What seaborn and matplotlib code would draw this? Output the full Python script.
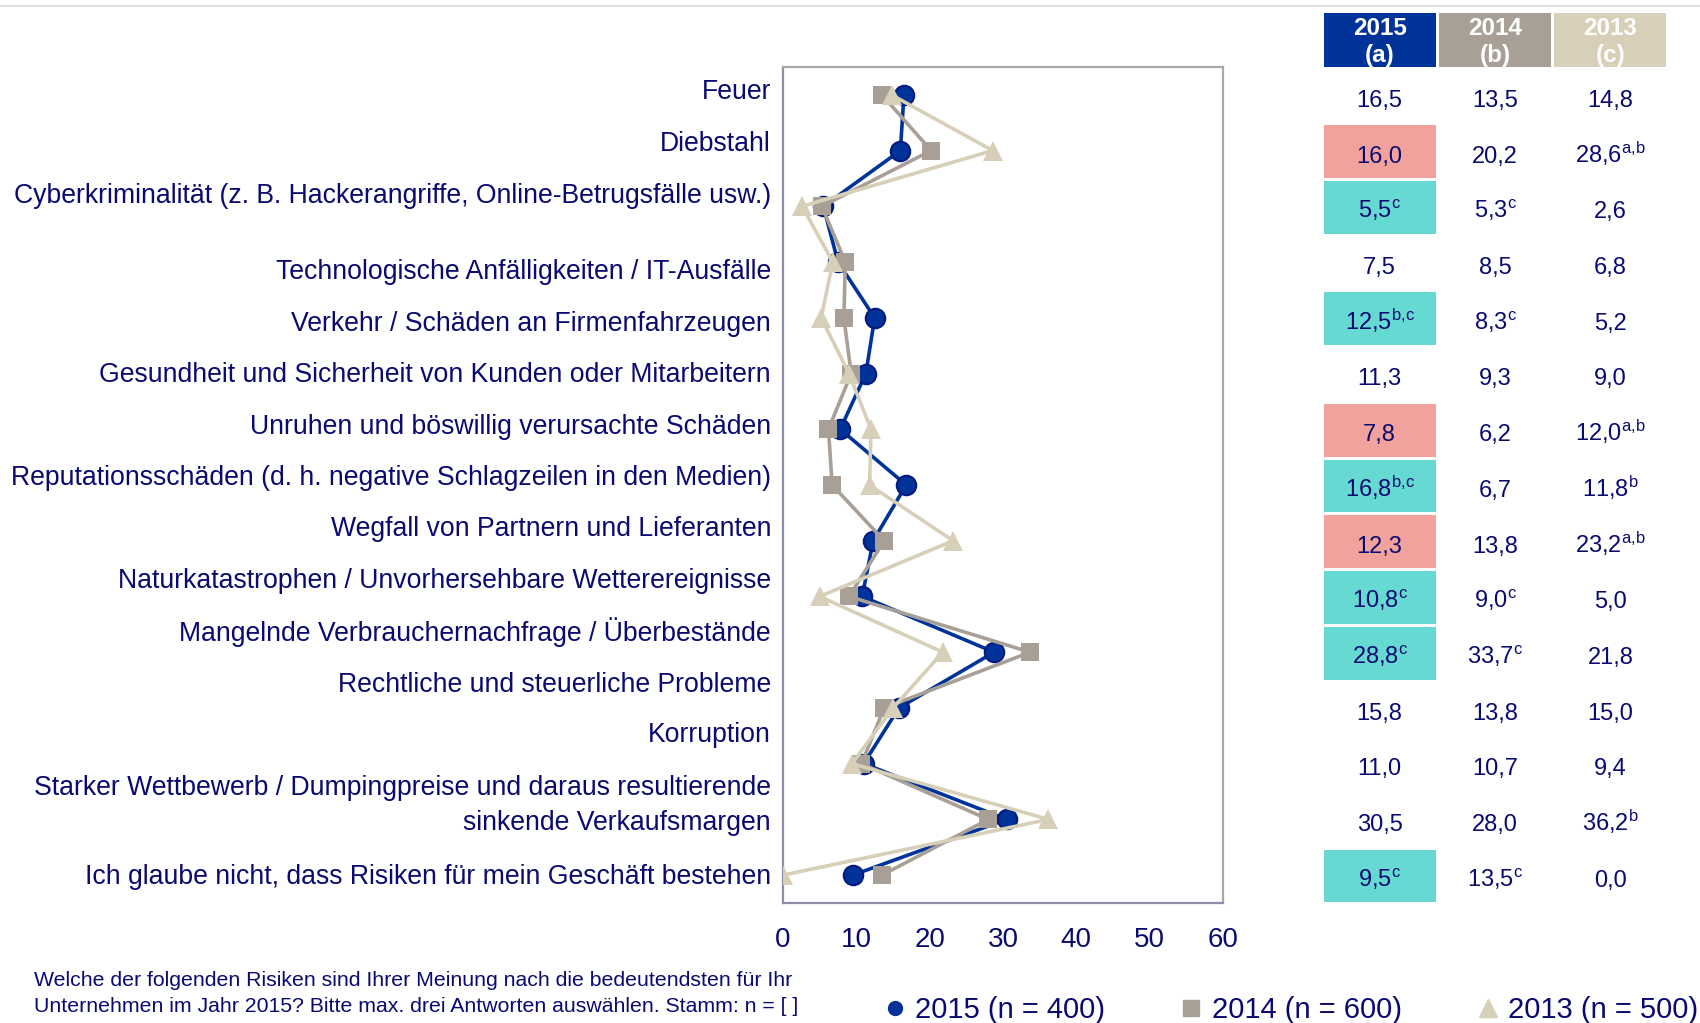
import matplotlib
matplotlib.use('Agg')
import matplotlib.pyplot as plt
import matplotlib.transforms as mtransforms
from matplotlib.patches import Rectangle
from matplotlib.lines import Line2D
import seaborn as sns

categories = ['Feuer', 'Diebstahl',
              'Cyberkriminalität (z. B. Hackerangriffe, Online-Betrugsfälle usw.)',
              'Technologische Anfälligkeiten / IT-Ausfälle',
              'Verkehr / Schäden an Firmenfahrzeugen',
              'Gesundheit und Sicherheit von Kunden oder Mitarbeitern',
              'Unruhen und böswillig verursachte Schäden',
              'Reputationsschäden (d. h. negative Schlagzeilen in den Medien)',
              'Wegfall von Partnern und Lieferanten',
              'Naturkatastrophen / Unvorhersehbare Wetterereignisse',
              'Mangelnde Verbrauchernachfrage / Überbestände',
              'Rechtliche und steuerliche Probleme',
              'Korruption',
              'Starker Wettbewerb / Dumpingpreise und daraus resultierende\nsinkende Verkaufsmargen',
              'Ich glaube nicht, dass Risiken für mein Geschäft bestehen']
# where the label texts sit (in row units), as in the original layout
label_rows = [-0.05, 0.88, 1.82, 3.18, 4.11, 5.03, 5.96, 6.88, 7.79, 8.73,
              9.64, 10.58, 11.49, 12.75, 14.04]

v2015 = [16.5, 16.0, 5.5, 7.5, 12.5, 11.3, 7.8, 16.8, 12.3, 10.8, 28.8, 15.8, 11.0, 30.5, 9.5]
v2014 = [13.5, 20.2, 5.3, 8.5, 8.3, 9.3, 6.2, 6.7, 13.8, 9.0, 33.7, 13.8, 10.7, 28.0, 13.5]
v2013 = [14.8, 28.6, 2.6, 6.8, 5.2, 9.0, 12.0, 11.8, 23.2, 5.0, 21.8, 15.0, 9.4, 36.2, 0.0]

sup2015 = ['', '', 'c', '', 'b,c', '', '', 'b,c', '', 'c', 'c', '', '', '', 'c']
sup2014 = ['', '', 'c', '', 'c', '', '', '', '', 'c', 'c', '', '', '', 'c']
sup2013 = ['', 'a,b', '', '', '', '', 'a,b', 'b', 'a,b', '', '', '', '', 'b', '']
# highlight of the 2015 column: r = significantly lower, t = significantly higher
hl2015 = ['', 'r', 't', '', 't', '', 'r', 't', 'r', 't', 't', '', '', '', 't']

headers = ['2015\n(a)', '2014\n(b)', '2013\n(c)']
legend_labels = ['2015 (n = 400)', '2014 (n = 600)', '2013 (n = 500)']
xticks = [0, 10, 20, 30, 40, 50, 60]
footnote = ('Welche der folgenden Risiken sind Ihrer Meinung nach die bedeutendsten für Ihr\n'
            'Unternehmen im Jahr 2015? Bitte max. drei Antworten auswählen. Stamm: n = [ ]')

sns.set_style('white')
plt.rcParams['font.family'] = ['Liberation Sans', 'DejaVu Sans']
plt.rcParams['mathtext.fontset'] = 'custom'
plt.rcParams['mathtext.rm'] = 'Liberation Sans'
plt.rcParams['mathtext.default'] = 'regular'

navy = '#0A0A70'
c15, c14, c13 = '#003399', '#A8A097', '#D7CFB7'
hl_colors = {'r': '#F2A29C', 't': '#66D9D2'}

fig = plt.figure(figsize=(17, 10.23), dpi=100)
W, H = 1700, 1023
ax = fig.add_axes([783 / W, 1 - 903 / H, 440 / W, 836 / H])

rows = list(range(len(v2015)))
sns.lineplot(x=v2015, y=rows, sort=False, estimator=None, ax=ax, color=c15,
             linewidth=2.6, marker='o', markersize=14, markerfacecolor=c15,
             markeredgecolor='#001a80', markeredgewidth=1.5, zorder=3)
sns.lineplot(x=v2014, y=rows, sort=False, estimator=None, ax=ax, color=c14,
             linewidth=2.6, marker='s', markersize=13, markerfacecolor=c14,
             markeredgecolor=c14, markeredgewidth=0, zorder=4)
sns.lineplot(x=v2013, y=rows, sort=False, estimator=None, ax=ax, color=c13,
             linewidth=2.6, marker='^', markersize=15, markerfacecolor=c13,
             markeredgecolor=c13, markeredgewidth=0, zorder=5)

ax.set_xlim(0, 60)
ax.set_ylim(14.5, -0.5)
ax.set_xticks(xticks)
ax.set_xticklabels([str(t) for t in xticks])
ax.set_yticks([])
ax.set_xlabel('')
ax.set_ylabel('')
ax.tick_params(axis='x', length=0, pad=17, labelsize=20, labelcolor=navy)
for side in ['left', 'bottom']:
    ax.spines[side].set_color('#8E8EAA')
for side in ['top', 'right']:
    ax.spines[side].set_color('#ABA7A3')
for s in ax.spines.values():
    s.set_linewidth(1.6)
    s.set_zorder(2)

trans = mtransforms.blended_transform_factory(ax.transAxes, ax.transData)
for lab, r in zip(categories, label_rows):
    ax.text(-0.027, r, lab, transform=trans, ha='right', va='center',
            fontsize=19.2, color=navy, linespacing=1.45, multialignment='right')

# table on the right
tax = fig.add_axes([1322 / W, 1 - 903 / H, 346 / W, 890 / H])
tax.set_xlim(0, 3)
tax.set_ylim(14.5, -1.474)
tax.axis('off')

for i, (hd, col) in enumerate(zip(headers, [c15, c14, c13])):
    tax.add_patch(Rectangle((i + 0.015, -1.474), 0.97, 0.974, facecolor=col, edgecolor='none'))
    tax.text(i + 0.5, -0.95, hd, ha='center', va='center', fontsize=17.5,
             fontweight='bold', color='white', linespacing=1.2)

for r in rows:
    if hl2015[r]:
        tax.add_patch(Rectangle((0.015, r - 0.46), 0.97, 0.95,
                                facecolor=hl_colors[hl2015[r]], edgecolor='none'))
    for i, (vals, sups) in enumerate([(v2015, sup2015), (v2014, sup2014), (v2013, sup2013)]):
        s = f'{vals[r]:.1f}'.replace('.', ',')
        if sups[r]:
            s = s + '$^{' + sups[r].replace(',', '{,}') + '}$'
        tax.text(i + 0.5, r + 0.21, s, ha='center', va='baseline', fontsize=17, color=navy)

# thin rule at the top
fig.add_artist(Line2D([0, 1], [1 - 6 / H, 1 - 6 / H], transform=fig.transFigure,
                      color='#E3E0DC', linewidth=1.5))

fig.text(34 / W, 1 - 993.5 / H, footnote, ha='left', va='center', fontsize=15.3,
         color=navy, linespacing=1.42)

handles = [Line2D([], [], linestyle='none', marker='o', markersize=10, color=c15),
           Line2D([], [], linestyle='none', marker='s', markersize=11, color=c14),
           Line2D([], [], linestyle='none', marker='^', markersize=13, color=c13)]
fig.legend(handles, legend_labels, loc='center left', bbox_to_anchor=(883 / W, 1 - 1010 / H),
           ncol=3, frameon=False, fontsize=21, handlelength=0.8, handletextpad=0.3,
           columnspacing=2.55, borderpad=0, borderaxespad=0, labelcolor=navy)

fig.savefig('out.png', dpi=100)
